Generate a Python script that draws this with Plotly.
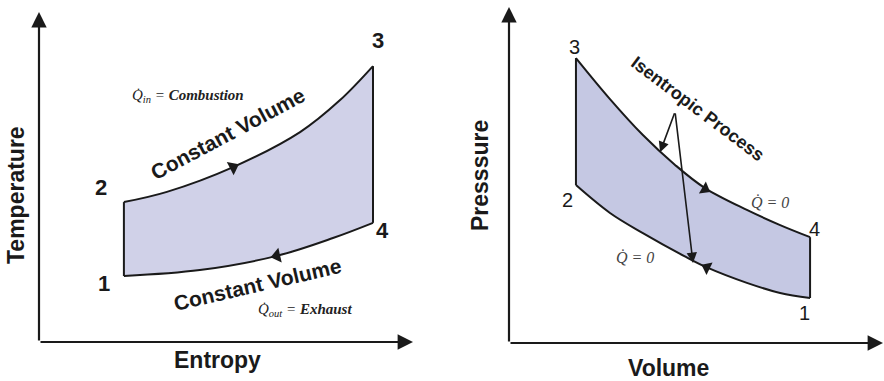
import plotly.graph_objects as go

# ---------------- data (arbitrary units 0-10) ----------------
# T-s diagram (Otto cycle)
ts_upper_s = [2.27, 3.42, 5.19, 6.98, 8.05, 8.93]   # 2 -> 3 constant volume (heat in)
ts_upper_T = [4.24, 4.55, 5.30, 6.36, 7.33, 8.36]
ts_lower_s = [2.27, 4.30, 6.36, 7.86, 8.93]         # 1 -> 4 constant volume (heat out)
ts_lower_T = [2.00, 2.18, 2.61, 3.15, 3.61]
ts_arrow_s = [5.19, 6.36]
ts_arrow_T = [5.30, 2.61]
ts_arrow_angle = [-27, 167]

# P-v diagram
pv_upper_v = [1.79, 2.70, 3.58, 4.44, 5.24, 6.36, 7.25, 8.05]   # 3 -> 4 isentropic expansion
pv_upper_p = [8.48, 7.26, 6.19, 5.30, 4.61, 3.96, 3.51, 3.15]
pv_lower_v = [1.79, 2.70, 3.58, 4.73, 5.29, 6.36, 7.25, 8.05]   # 2 -> 1 isentropic compression
pv_lower_p = [4.70, 3.87, 3.27, 2.56, 2.25, 1.79, 1.49, 1.34]
pv_arrow_v = [5.24, 5.29]
pv_arrow_p = [4.58, 2.25]
pv_arrow_angle = [30, 206]

state_labels = ["1", "2", "3", "4"]

FILL_TS = "rgb(208,209,232)"
FILL_PV = "rgb(197,200,227)"
INK = "#1a1a1a"
W, H = 884, 381

fig = go.Figure()

# ---------- T-s ----------
fig.add_trace(go.Scatter(x=ts_lower_s, y=ts_lower_T, mode="lines",
                         line=dict(color=INK, width=2, shape="spline"),
                         xaxis="x", yaxis="y", hoverinfo="skip"))
fig.add_trace(go.Scatter(x=ts_upper_s, y=ts_upper_T, mode="lines",
                         line=dict(color=INK, width=2, shape="spline"),
                         fill="tonexty", fillcolor=FILL_TS,
                         xaxis="x", yaxis="y", hoverinfo="skip"))
fig.add_trace(go.Scatter(x=[ts_lower_s[0], ts_upper_s[0]], y=[ts_lower_T[0], ts_upper_T[0]],
                         mode="lines", line=dict(color=INK, width=2),
                         xaxis="x", yaxis="y", hoverinfo="skip"))
fig.add_trace(go.Scatter(x=[ts_lower_s[-1], ts_upper_s[-1]], y=[ts_lower_T[-1], ts_upper_T[-1]],
                         mode="lines", line=dict(color=INK, width=2),
                         xaxis="x", yaxis="y", hoverinfo="skip"))
fig.add_trace(go.Scatter(x=ts_arrow_s, y=ts_arrow_T, mode="markers",
                         marker=dict(symbol="triangle-right", size=13, color=INK,
                                     angle=ts_arrow_angle, line=dict(width=0)),
                         xaxis="x", yaxis="y", hoverinfo="skip"))

# ---------- P-v ----------
fig.add_trace(go.Scatter(x=pv_lower_v, y=pv_lower_p, mode="lines",
                         line=dict(color=INK, width=2, shape="spline"),
                         xaxis="x2", yaxis="y2", hoverinfo="skip"))
fig.add_trace(go.Scatter(x=pv_upper_v, y=pv_upper_p, mode="lines",
                         line=dict(color=INK, width=2, shape="spline"),
                         fill="tonexty", fillcolor=FILL_PV,
                         xaxis="x2", yaxis="y2", hoverinfo="skip"))
fig.add_trace(go.Scatter(x=[pv_lower_v[0], pv_upper_v[0]], y=[pv_lower_p[0], pv_upper_p[0]],
                         mode="lines", line=dict(color=INK, width=2),
                         xaxis="x2", yaxis="y2", hoverinfo="skip"))
fig.add_trace(go.Scatter(x=[pv_lower_v[-1], pv_upper_v[-1]], y=[pv_lower_p[-1], pv_upper_p[-1]],
                         mode="lines", line=dict(color=INK, width=2),
                         xaxis="x2", yaxis="y2", hoverinfo="skip"))
fig.add_trace(go.Scatter(x=pv_arrow_v, y=pv_arrow_p, mode="markers",
                         marker=dict(symbol="triangle-right", size=12, color=INK,
                                     angle=pv_arrow_angle, line=dict(width=0)),
                         xaxis="x2", yaxis="y2", hoverinfo="skip"))

ann = []

def axis_arrow(xr, yr, x0, y0, x1, y1):
    ann.append(dict(xref=xr, yref=yr, axref=xr, ayref=yr, x=x1, y=y1, ax=x0, ay=y0,
                    showarrow=True, arrowhead=2, arrowsize=1.4, arrowwidth=2.2,
                    arrowcolor=INK, standoff=0, startstandoff=0, text=""))

axis_arrow("x", "y", 0, 0, 0, 10)
axis_arrow("x", "y", 0, 0, 10, 0)
axis_arrow("x2", "y2", 0, 0, 0, 10)
axis_arrow("x2", "y2", 0, 0, 10, 0)

# isentropic pointer arrows
for tx, ty in [(4.04, 5.68), (4.92, 2.38)]:
    ann.append(dict(xref="x2", yref="y2", axref="x2", ayref="y2", x=tx, y=ty, ax=4.44, ay=6.88,
                    showarrow=True, arrowhead=2, arrowsize=1.3, arrowwidth=1.6,
                    arrowcolor=INK, standoff=0, text=""))

# state numbers
ts_pts = {"1": (ts_lower_s[0], ts_lower_T[0], -20, -7),
          "2": (ts_upper_s[0], ts_upper_T[0], -23, 15),
          "3": (ts_upper_s[-1], ts_upper_T[-1], 5, 26),
          "4": (ts_lower_s[-1], ts_lower_T[-1], 10, -8)}
for lab in state_labels:
    x, y, dx, dy = ts_pts[lab]
    ann.append(dict(xref="x", yref="y", x=x, y=y, xshift=dx, yshift=dy, text="<b>" + lab + "</b>",
                    showarrow=False, font=dict(family="Liberation Sans, Arial", size=22, color=INK)))
pv_pts = {"1": (pv_lower_v[-1], pv_lower_p[-1], -6, -15),
          "2": (pv_lower_v[0], pv_lower_p[0], -8, -15),
          "3": (pv_upper_v[0], pv_upper_p[0], -1, 11),
          "4": (pv_upper_v[-1], pv_upper_p[-1], 4, 8)}
for lab in state_labels:
    x, y, dx, dy = pv_pts[lab]
    ann.append(dict(xref="x2", yref="y2", x=x, y=y, xshift=dx, yshift=dy, text=lab,
                    showarrow=False, font=dict(family="Liberation Sans, Arial", size=20, color=INK)))

ann.append(dict(xref="x", yref="y", x=5.05, y=6.33, text="<b>Constant Volume</b>", textangle=-28,
                showarrow=False, font=dict(family="Liberation Sans, Arial", size=21, color=INK)))
ann.append(dict(xref="x", yref="y", x=5.83, y=1.73, text="<b>Constant Volume</b>", textangle=-13,
                showarrow=False, font=dict(family="Liberation Sans, Arial", size=21, color=INK)))
ann.append(dict(xref="x2", yref="y2", x=5.05, y=6.96, text="<b>Isentropic Process</b>", textangle=37,
                showarrow=False, font=dict(family="Liberation Sans, Arial", size=18, color=INK)))

serif = dict(family="Liberation Serif, DejaVu Serif, serif", size=15, color="#222")
ann.append(dict(xref="x", yref="y", x=3.98, y=7.45, text="<i>Q\u0307<sub>in</sub> = <b>Combustion</b></i>",
                showarrow=False, font=serif))
ann.append(dict(xref="x", yref="y", x=7.11, y=0.97, text="<i>Q\u0307<sub>out</sub> = <b>Exhaust</b></i>",
                showarrow=False, font=serif))
grey = dict(family="Liberation Serif, DejaVu Serif, serif", size=16, color="#444")
ann.append(dict(xref="x2", yref="y2", x=6.98, y=4.17, text="<i>Q\u0307 = 0</i>", showarrow=False, font=grey))
ann.append(dict(xref="x2", yref="y2", x=3.37, y=2.53, text="<i>Q\u0307 = 0</i>", showarrow=False, font=grey))

# axis titles
bold = dict(family="Liberation Sans, Arial", size=23, color=INK)
def title(px, py, txt, angle=0):
    ann.append(dict(xref="paper", yref="paper", x=px / W, y=1 - py / H, text="<b>" + txt + "</b>",
                    textangle=angle, showarrow=False, font=bold, xanchor="center", yanchor="middle"))

title(16, 195, "Temperature", -90)
title(217, 360, "Entropy")
title(480, 175, "Presssure", -90)
title(668, 368, "Volume")

hidden = dict(visible=False, range=[0, 10], fixedrange=True)
fig.update_layout(
    width=W, height=H, margin=dict(l=0, r=0, t=0, b=0),
    paper_bgcolor="white", plot_bgcolor="rgba(0,0,0,0)", showlegend=False,
    xaxis=dict(hidden, domain=[39 / W, 413 / W]),
    yaxis=dict(hidden, domain=[1 - 342 / H, 1 - 12 / H]),
    xaxis2=dict(hidden, domain=[509 / W, 883 / W], anchor="y2"),
    yaxis2=dict(hidden, domain=[1 - 343 / H, 1 - 7 / H], anchor="x2"),
    annotations=ann,
)

fig.write_html("out.html", config={"displayModeBar": False},
               post_script="document.body.style.margin='0';document.body.style.overflow='hidden';")
